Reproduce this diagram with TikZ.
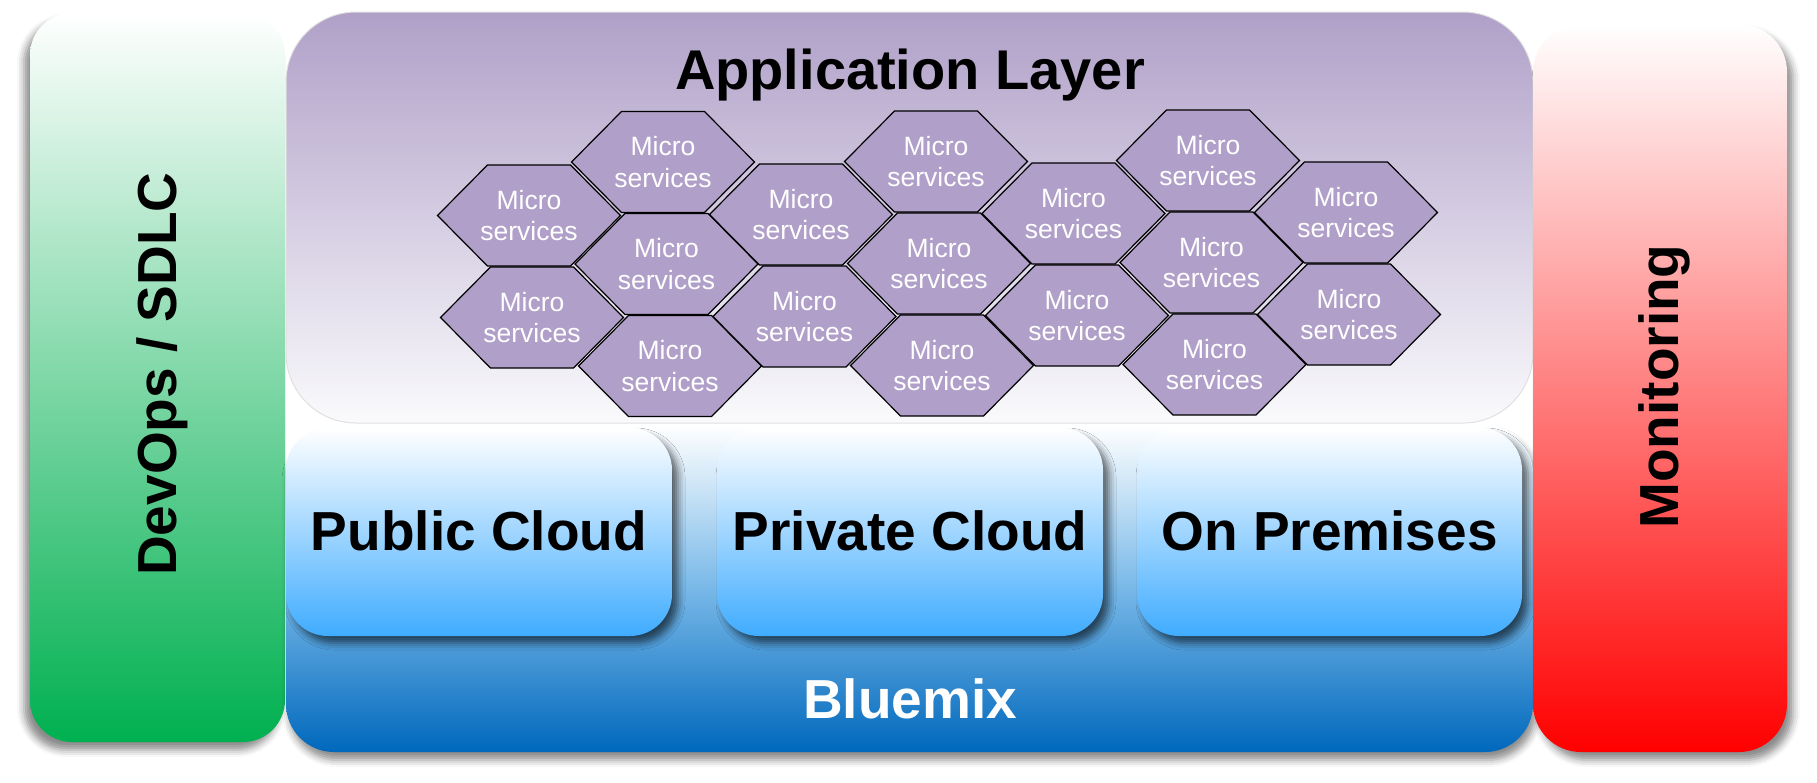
\documentclass[tikz,border=0pt]{standalone}
\usepackage{fontspec}
\setmainfont{Liberation Sans}
\usetikzlibrary{shadows.blur}

\definecolor{appviolet}{RGB}{176,160,200}
\definecolor{appwhite}{RGB}{250,250,252}
\definecolor{hexviolet}{RGB}{176,159,200}
\definecolor{opsgreen}{RGB}{0,176,80}
\definecolor{monred}{RGB}{255,0,0}
\definecolor{cloudblue}{RGB}{64,172,255}
\definecolor{bluemixmid}{RGB}{120,184,232}
\definecolor{bluemixdark}{RGB}{0,104,188}

\tikzset{
  panel/.style={blur shadow={shadow xshift=#1, shadow yshift=-8pt,
      shadow blur radius=7pt, shadow opacity=45}},
  cloudbox/.style={rounded corners=42pt, top color=white, bottom color=cloudblue,
      blur shadow={shadow xshift=6pt, shadow yshift=-7pt,
      shadow blur radius=7pt, shadow opacity=60}},
  hexcell/.style={fill=hexviolet, draw=black, line width=1.2pt, line join=miter},
  hextext/.style={text=white, align=center, inner sep=0pt,
      font=\fontsize{26.5}{31.5}\selectfont},
  biglabel/.style={font=\bfseries\fontsize{55}{60}\selectfont, inner sep=0pt}
}

\begin{document}
\begin{tikzpicture}[x=1pt, y=1pt]
            \useasboundingbox (0,0) rectangle (1817,-782);
            \path[panel=-6pt, rounded corners=42pt, top color=white, bottom color=opsgreen] (30,-13) rectangle (285,-742);
            \path[draw=black!12, line width=1pt, rounded corners=70pt, top color=appviolet, bottom color=appwhite] (286,-12) rectangle (1533,-423);
            \path[panel=3pt, rounded corners=48pt, top color=white, bottom color=bluemixdark, middle color=bluemixmid] (286,-425) rectangle (1533,-752);
            \path[cloudbox] (286,-428) rectangle (672,-636);
            \path[cloudbox] (717,-428) rectangle (1103,-636);
            \path[cloudbox] (1137,-428) rectangle (1522,-636);
            \path[panel=6pt, rounded corners=48pt, top color=white, bottom color=monred] (1533,-24) rectangle (1787,-752);
            \foreach \x/\y [count=\i] in {529/215.5, 532/317.5, 663/162, 666.5/264, 670/366,
                801/214.5, 804.5/316.5, 936/161.5, 939/263.5, 942/365.5,
                1073.5/213.5, 1077/315.5, 1208/160.5, 1211.5/262.5, 1214.5/364.5,
                1346/212.5, 1349/314.5} {
              \draw[hexcell] (\x-91.5,-\y) -- ++(50,50.5) -- ++(83,0) -- ++(50,-50.5) -- ++(-50,-50.5) -- ++(-83,0) -- cycle;
              \node[hextext] (micro\i) at (\x,-\y) {Micro\\services};
            }
            \node[biglabel, font=\bfseries\fontsize{56}{60}\selectfont, anchor=base] (applayer) at (910,-89.5) {Application Layer};
            \node[biglabel, anchor=base] (public) at (479,-550) {Public Cloud};
            \node[biglabel, anchor=base] (private) at (910,-550) {Private Cloud};
            \node[biglabel, anchor=base] (onprem) at (1329.5,-550) {On Premises};
            \node[biglabel, text=white, anchor=base] (bluemix) at (910,-718) {Bluemix};
            \node[biglabel, rotate=90, anchor=base] (devops) at (176,-374) {DevOps / SDLC};
            \node[biglabel, rotate=90, anchor=base] (monitoring) at (1678,-386.5) {Monitoring};
        \end{tikzpicture}
\end{document}
